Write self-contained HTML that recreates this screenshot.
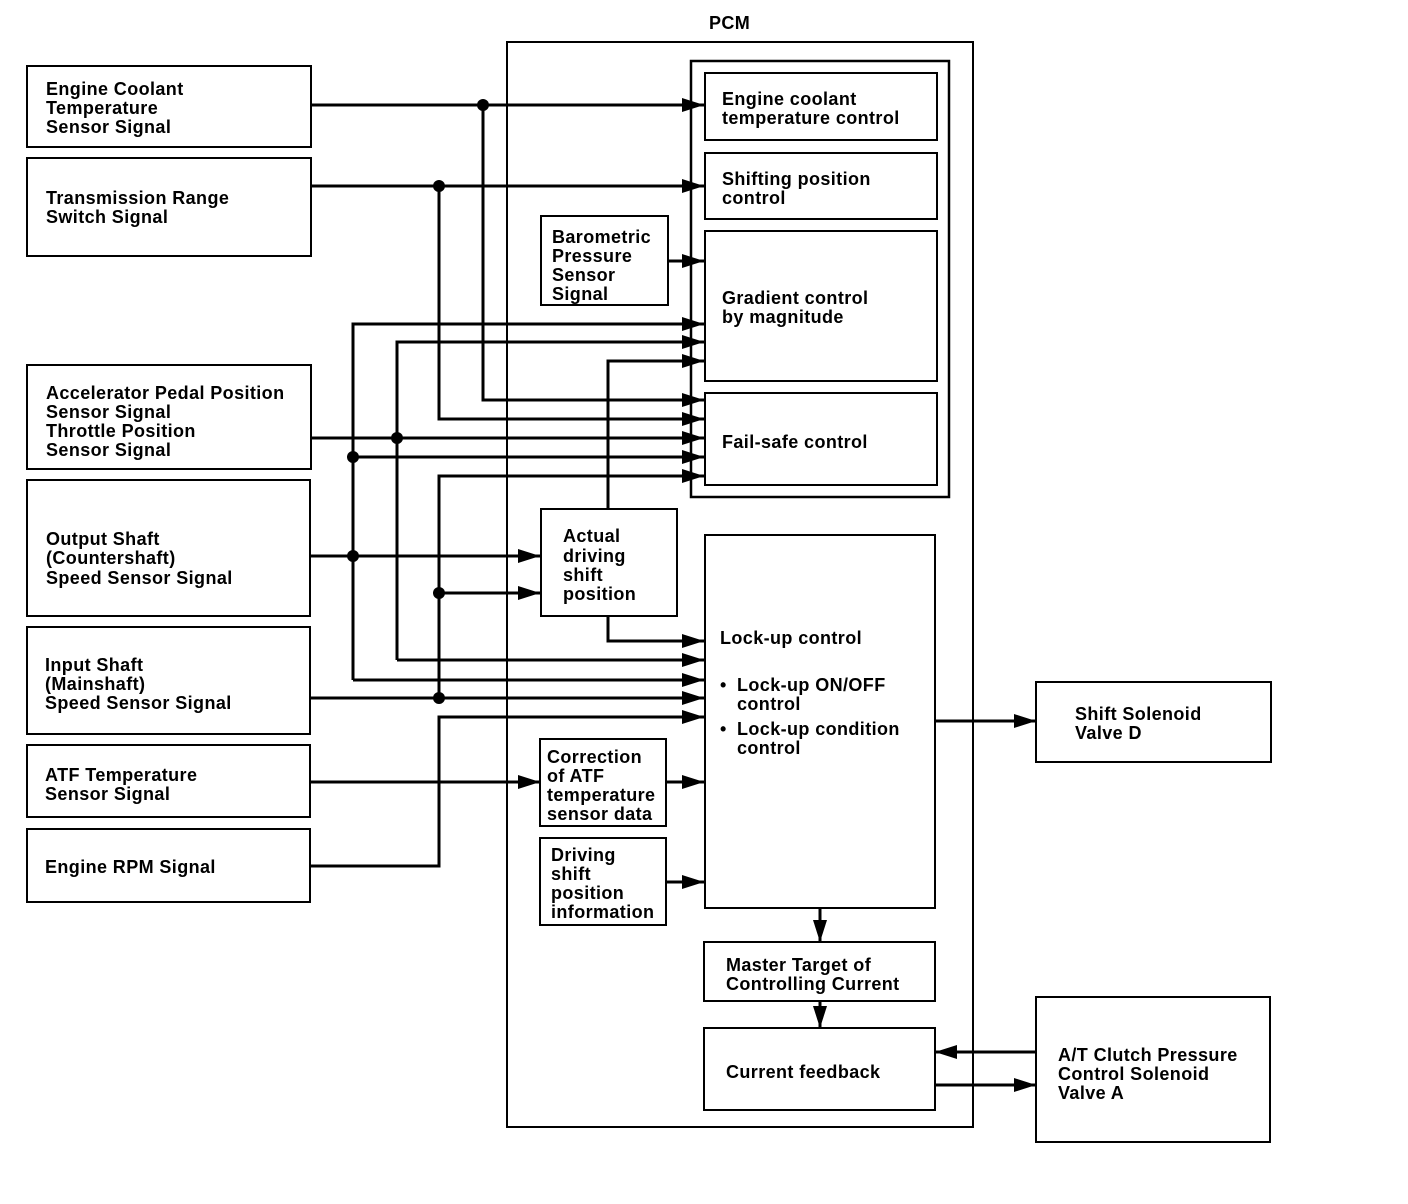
<!DOCTYPE html>
<html><head><meta charset="utf-8"><style>
html,body{margin:0;padding:0;background:#fff;}
svg{display:block;}
text{font-family:"Liberation Sans",Arial,sans-serif;font-weight:bold;font-size:18px;letter-spacing:0.4px;fill:#000;}
</style></head><body>
<svg width="1408" height="1204" viewBox="0 0 1408 1204" xmlns="http://www.w3.org/2000/svg">
<defs>
<marker id="a" viewBox="0 0 10 10" refX="10" refY="5" markerWidth="22" markerHeight="14" markerUnits="userSpaceOnUse" orient="auto" preserveAspectRatio="none">
<path d="M0,0 L10,5 L0,10 z" fill="#000"/></marker>
</defs>
<g fill="none" stroke="#000" stroke-width="2">
<rect x="27" y="66" width="284" height="81"/>
<rect x="27" y="158" width="284" height="98"/>
<rect x="27" y="365" width="284" height="104"/>
<rect x="27" y="480" width="283" height="136"/>
<rect x="27" y="627" width="283" height="107"/>
<rect x="27" y="745" width="283" height="72"/>
<rect x="27" y="829" width="283" height="73"/>
<rect x="507" y="42" width="466" height="1085"/>
<rect x="691" y="61" width="258" height="436" stroke-width="2.5"/>
<rect x="705" y="73" width="232" height="67"/>
<rect x="705" y="153" width="232" height="66"/>
<rect x="705" y="231" width="232" height="150"/>
<rect x="705" y="393" width="232" height="92"/>
<rect x="541" y="216" width="127" height="89"/>
<rect x="541" y="509" width="136" height="107"/>
<rect x="705" y="535" width="230" height="373"/>
<rect x="540" y="739" width="126" height="87"/>
<rect x="540" y="838" width="126" height="87"/>
<rect x="704" y="942" width="231" height="59"/>
<rect x="704" y="1028" width="231" height="82"/>
<rect x="1036" y="682" width="235" height="80"/>
<rect x="1036" y="997" width="234" height="145"/>
</g>
<g fill="none" stroke="#000" stroke-width="3">
<path d="M311,105 H704" marker-end="url(#a)"/>
<path d="M483,105 V400 H704" marker-end="url(#a)"/>
<path d="M311,186 H704" marker-end="url(#a)"/>
<path d="M439,186 V419 H704" marker-end="url(#a)"/>
<path d="M668,261 H704" marker-end="url(#a)"/>
<path d="M353,680 V324 H704" marker-end="url(#a)"/>
<path d="M353,680 H704" marker-end="url(#a)"/>
<path d="M353,457 H704" marker-end="url(#a)"/>
<path d="M397,660 V342 H704" marker-end="url(#a)"/>
<path d="M397,660 H704" marker-end="url(#a)"/>
<path d="M311,438 H704" marker-end="url(#a)"/>
<path d="M608,509 V361 H704" marker-end="url(#a)"/>
<path d="M608,616 V641 H704" marker-end="url(#a)"/>
<path d="M310,556 H540" marker-end="url(#a)"/>
<path d="M439,698 V476 H704" marker-end="url(#a)"/>
<path d="M439,593 H540" marker-end="url(#a)"/>
<path d="M310,698 H704" marker-end="url(#a)"/>
<path d="M310,866 H439 V717 H704" marker-end="url(#a)"/>
<path d="M310,782 H540" marker-end="url(#a)"/>
<path d="M666,782 H704" marker-end="url(#a)"/>
<path d="M666,882 H704" marker-end="url(#a)"/>
<path d="M935,721 H1036" marker-end="url(#a)"/>
<path d="M820,908 V942" marker-end="url(#a)"/>
<path d="M820,1001 V1028" marker-end="url(#a)"/>
<path d="M1036,1052 H935" marker-end="url(#a)"/>
<path d="M935,1085 H1036" marker-end="url(#a)"/>
</g>
<g fill="#000">
<circle cx="483" cy="105" r="6"/>
<circle cx="439" cy="186" r="6"/>
<circle cx="397" cy="438" r="6"/>
<circle cx="353" cy="457" r="6"/>
<circle cx="353" cy="556" r="6"/>
<circle cx="439" cy="593" r="6"/>
<circle cx="439" cy="698" r="6"/>
</g>
<text x="709" y="29">PCM</text>
<text x="46" y="95">Engine Coolant</text><text x="46" y="114">Temperature</text><text x="46" y="133">Sensor Signal</text>
<text x="46" y="204">Transmission Range</text><text x="46" y="223">Switch Signal</text>
<text x="46" y="399">Accelerator Pedal Position</text><text x="46" y="418">Sensor Signal</text><text x="46" y="437">Throttle Position</text><text x="46" y="456">Sensor Signal</text>
<text x="46" y="545">Output Shaft</text><text x="46" y="564">(Countershaft)</text><text x="46" y="584">Speed Sensor Signal</text>
<text x="45" y="671">Input Shaft</text><text x="45" y="690">(Mainshaft)</text><text x="45" y="709">Speed Sensor Signal</text>
<text x="45" y="781">ATF Temperature</text><text x="45" y="800">Sensor Signal</text>
<text x="45" y="873">Engine RPM Signal</text>
<text x="722" y="105">Engine coolant</text><text x="722" y="124">temperature control</text>
<text x="722" y="185">Shifting position</text><text x="722" y="204">control</text>
<text x="552" y="243">Barometric</text><text x="552" y="262">Pressure</text><text x="552" y="281">Sensor</text><text x="552" y="300">Signal</text>
<text x="722" y="304">Gradient control</text><text x="722" y="323">by magnitude</text>
<text x="722" y="448">Fail-safe control</text>
<text x="563" y="542">Actual</text><text x="563" y="562">driving</text><text x="563" y="581">shift</text><text x="563" y="600">position</text>
<text x="720" y="644">Lock-up control</text>
<text x="720" y="691">•</text><text x="737" y="691">Lock-up ON/OFF</text><text x="737" y="710">control</text>
<text x="720" y="735">•</text><text x="737" y="735">Lock-up condition</text><text x="737" y="754">control</text>
<text x="547" y="763">Correction</text><text x="547" y="782">of ATF</text><text x="547" y="801">temperature</text><text x="547" y="820">sensor data</text>
<text x="551" y="861">Driving</text><text x="551" y="880">shift</text><text x="551" y="899">position</text><text x="551" y="918">information</text>
<text x="726" y="971">Master Target of</text><text x="726" y="990">Controlling Current</text>
<text x="726" y="1078">Current feedback</text>
<text x="1075" y="720">Shift Solenoid</text><text x="1075" y="739">Valve D</text>
<text x="1058" y="1061">A/T Clutch Pressure</text><text x="1058" y="1080">Control Solenoid</text><text x="1058" y="1099">Valve A</text>
</svg>
</body></html>
